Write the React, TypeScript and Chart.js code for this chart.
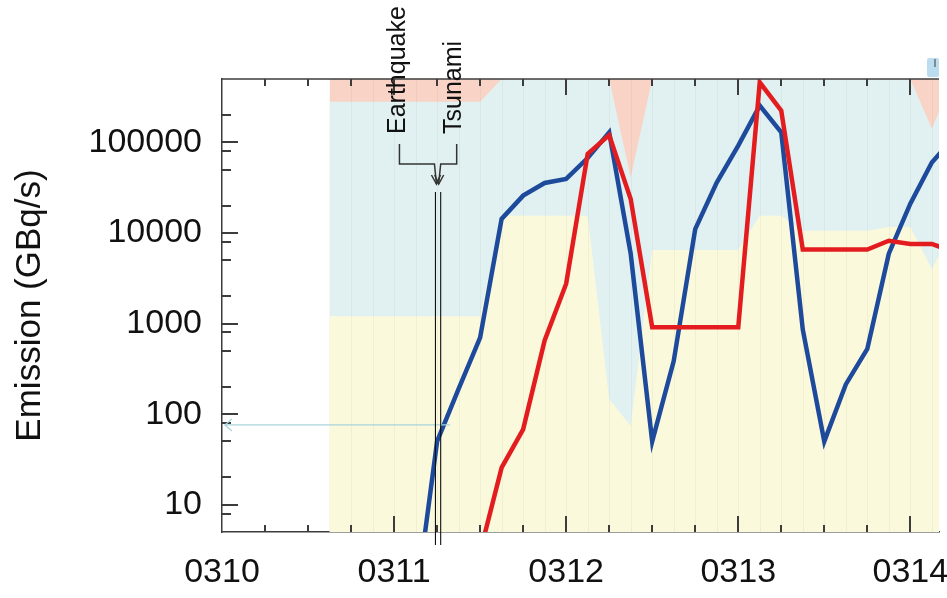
import React, { useEffect, useRef } from 'react';
import { Chart, registerables } from 'chart.js';

Chart.register(...registerables);

// ---------- data ----------
// x values are hours after 2011-03-10 00:00 UTC
const xTickHours = [0, 24, 48, 72, 96];
const xTickLabels = ['0310', '0311', '0312', '0313', '0314'];
const xMinorTickHours = [6, 12, 18, 24, 30, 36, 42, 48, 54, 60, 66, 72, 78, 84, 90, 96];
const yTickValues = [10, 100, 1000, 10000, 100000];
const yMinorTickValues = [8, 20, 50, 80, 200, 500, 800, 2000, 5000, 8000, 20000, 50000, 80000, 200000];

const fillHours = [15, 18, 21, 24, 27, 30, 33, 36, 39, 42, 45, 48, 51, 54, 57, 60, 63, 66, 69, 72, 75, 78, 81, 84, 87, 90, 93, 96, 99, 102];
const pinkTop = [500000, 500000, 500000, 500000, 500000, 500000, 500000, 500000, 500000, 500000, 500000, 500000, 500000, 500000, 500000, 500000, 500000, 500000, 500000, 500000, 500000, 500000, 500000, 500000, 500000, 500000, 500000, 500000, 500000, 500000];
const blueTop = [280000, 280000, 280000, 280000, 280000, 280000, 280000, 280000, 500000, 500000, 500000, 500000, 500000, 500000, 41000, 500000, 500000, 500000, 500000, 500000, 500000, 500000, 500000, 500000, 500000, 500000, 500000, 500000, 142000, 500000];
const yellowTop = [1200, 1200, 1200, 1200, 1200, 1200, 1200, 1200, 15500, 15500, 15500, 15500, 15500, 146, 74, 6500, 6500, 6500, 6500, 6500, 15500, 15500, 10600, 10600, 10600, 10600, 11600, 11600, 4000, 11000];

const blueHours = [27, 30, 33, 36, 39, 42, 45, 48, 51, 54, 57, 60, 63, 66, 69, 72, 75, 78, 81, 84, 87, 90, 93, 96, 99, 102];
const blueValues = [0.8, 50, 190, 700, 14300, 25800, 35600, 39500, 67000, 129000, 5900, 50, 385, 11000, 36000, 92000, 254000, 129000, 860, 50, 213, 525, 5900, 21000, 60000, 110000];

const redHours = [36, 39, 42, 45, 48, 51, 54, 57, 60, 63, 66, 69, 72, 75, 78, 81, 84, 87, 90, 93, 96, 99, 102];
const redValues = [3, 25.7, 68, 650, 2750, 74500, 120000, 23700, 910, 910, 910, 910, 910, 460000, 224000, 6550, 6550, 6550, 6550, 8200, 7570, 7570, 6200];

const earthquakeHour = 29.77;
const tsunamiHour = 30.5;
const refLineValue = 76;
const refLineHours = [0.4, 31.8];

const FONT = '"Liberation Sans", Arial, Helvetica, sans-serif';
const AXIS_COLOR = '#3c3c3c';

const toPoints = (xs: number[], ys: number[]) => xs.map((x, i) => ({ x, y: ys[i] }));

function drawInnerTicks(chart: any) {
  const { ctx, chartArea } = chart;
  const xs = chart.scales.x;
  const ys = chart.scales.y;
  const { left, top, bottom } = chartArea;
  ctx.save();
  ctx.strokeStyle = AXIS_COLOR;
  ctx.lineWidth = 2;
  ctx.beginPath();
  xMinorTickHours.forEach((h) => {
    const px = Math.round(xs.getPixelForValue(h));
    const len = h % 24 === 0 ? 16 : 7;
    ctx.moveTo(px, bottom);
    ctx.lineTo(px, bottom - len);
    ctx.moveTo(px, top);
    ctx.lineTo(px, top + len);
  });
  yTickValues.forEach((v) => {
    const py = Math.round(ys.getPixelForValue(v));
    ctx.moveTo(left, py);
    ctx.lineTo(left + 16, py);
  });
  yMinorTickValues.forEach((v) => {
    const py = Math.round(ys.getPixelForValue(v));
    ctx.moveTo(left, py);
    ctx.lineTo(left + 9, py);
  });
  ctx.stroke();
  ctx.restore();
}

const decorPlugin = {
  id: 'decor',
  afterDatasetDraw(chart: any, args: any) {
    if (args.index !== 2) return;
    const { ctx, chartArea } = chart;
    const xs = chart.scales.x;
    ctx.save();
    ctx.strokeStyle = 'rgba(110,130,100,0.08)';
    ctx.lineWidth = 1;
    for (const h of fillHours.slice(1)) {
      const px = Math.round(xs.getPixelForValue(h)) + 0.5;
      if (px > chartArea.right) continue;
      ctx.beginPath();
      ctx.moveTo(px, chartArea.top);
      ctx.lineTo(px, chartArea.bottom);
      ctx.stroke();
    }
    ctx.restore();
  },
  afterDraw(chart: any) {
    const { ctx, chartArea } = chart;
    const xs = chart.scales.x;
    const ys = chart.scales.y;
    const { left, right, top, bottom } = chartArea;
    ctx.save();

    // top border
    ctx.strokeStyle = AXIS_COLOR;
    ctx.lineWidth = 1.5;
    ctx.beginPath();
    ctx.moveTo(left, top);
    ctx.lineTo(right, top);
    ctx.stroke();

    drawInnerTicks(chart);

    // reference horizontal line with arrow
    const ry = ys.getPixelForValue(refLineValue);
    const rx0 = xs.getPixelForValue(refLineHours[0]);
    const rx1 = xs.getPixelForValue(refLineHours[1]);
    ctx.strokeStyle = '#a9d5dc';
    ctx.lineWidth = 1.2;
    ctx.beginPath();
    ctx.moveTo(rx0, ry);
    ctx.lineTo(rx1, ry);
    ctx.moveTo(rx0 + 7, ry - 6);
    ctx.lineTo(rx0, ry);
    ctx.lineTo(rx0 + 7, ry + 6);
    ctx.stroke();

    // earthquake / tsunami vertical lines
    const eqX = xs.getPixelForValue(earthquakeHour);
    const tsX = xs.getPixelForValue(tsunamiHour);
    ctx.strokeStyle = '#111';
    ctx.lineWidth = 1.1;
    ctx.beginPath();
    ctx.moveTo(eqX, top + 113);
    ctx.lineTo(eqX, bottom + 13);
    ctx.moveTo(tsX, top + 113);
    ctx.lineTo(tsX, bottom + 13);
    ctx.stroke();

    // brackets with arrows
    const eqTextX = eqX - 37;
    const tsTextX = tsX + 16;
    const bTop = top + 65;
    const bMid = top + 85;
    const aTip = top + 105;
    ctx.strokeStyle = '#333';
    ctx.lineWidth = 1.5;
    ctx.beginPath();
    ctx.moveTo(eqTextX + 1, bTop);
    ctx.lineTo(eqTextX + 1, bMid);
    ctx.lineTo(eqX - 1, bMid);
    ctx.lineTo(eqX + 1, aTip);
    ctx.moveTo(tsTextX, bTop);
    ctx.lineTo(tsTextX, bMid);
    ctx.lineTo(tsX, bMid);
    ctx.lineTo(tsX - 2, aTip);
    ctx.stroke();
    ctx.beginPath();
    ctx.moveTo(eqX - 4, aTip - 9);
    ctx.lineTo(eqX + 1, aTip);
    ctx.lineTo(eqX + 5, aTip - 9);
    ctx.moveTo(tsX - 6, aTip - 9);
    ctx.lineTo(tsX - 2, aTip);
    ctx.lineTo(tsX + 3, aTip - 9);
    ctx.stroke();

    // rotated labels
    ctx.fillStyle = '#111';
    ctx.font = `25px ${FONT}`;
    ctx.textAlign = 'left';
    ctx.textBaseline = 'middle';
    const drawRot = (text: string, x: number, y: number) => {
      ctx.save();
      ctx.translate(x, y);
      ctx.rotate(-Math.PI / 2);
      ctx.fillText(text, 0, 0);
      ctx.restore();
    };
    drawRot('Earthquake', eqTextX, top + 55);
    drawRot('Tsunami', tsTextX - 3, top + 55);

    // partially visible legend swatch at the top right
    ctx.fillStyle = '#bcdcef';
    ctx.beginPath();
    ctx.roundRect(right - 12, top - 21, 12, 19, 2);
    ctx.fill();
    ctx.strokeStyle = '#555';
    ctx.lineWidth = 1.2;
    ctx.beginPath();
    ctx.moveTo(right - 4, top - 20);
    ctx.lineTo(right - 4, top - 12);
    ctx.stroke();

    ctx.restore();
  },
};

export default function App() {
  const canvasRef = useRef<HTMLCanvasElement | null>(null);

  useEffect(() => {
    document.body.style.margin = '0';
    const canvas = canvasRef.current;
    if (!canvas) return;
    const tickFont = { family: FONT, size: 34 };
    const chart = new Chart(canvas, {
      type: 'line',
      data: {
        datasets: [
          {
            label: 'Red',
            data: toPoints(redHours, redValues),
            borderColor: '#e31d1f',
            borderWidth: 4.5,
            pointRadius: 0,
            fill: false,
            order: 0,
            borderJoinStyle: 'miter',
          },
          {
            label: 'Blue',
            data: toPoints(blueHours, blueValues),
            borderColor: '#1e4a9c',
            borderWidth: 4.5,
            pointRadius: 0,
            fill: false,
            order: 1,
            borderJoinStyle: 'miter',
          },
          {
            label: 'yellow',
            data: toPoints(fillHours, yellowTop),
            borderWidth: 0,
            pointRadius: 0,
            backgroundColor: '#fbf9dc',
            fill: 'start',
            order: 2,
          },
          {
            label: 'lightblue',
            data: toPoints(fillHours, blueTop),
            borderWidth: 0,
            pointRadius: 0,
            backgroundColor: '#e1f1f1',
            fill: 'start',
            order: 3,
          },
          {
            label: 'pink',
            data: toPoints(fillHours, pinkTop),
            borderWidth: 0,
            pointRadius: 0,
            backgroundColor: '#f9d3c6',
            fill: 'start',
            order: 4,
          },
        ],
      },
      options: {
        responsive: false,
        animation: false,
        devicePixelRatio: 1,
        layout: { padding: { top: 79, right: 8, left: 0, bottom: 0 } },
        plugins: { legend: { display: false }, tooltip: { enabled: false } },
        elements: { line: { tension: 0 } },
        scales: {
          x: {
            type: 'linear',
            min: 0,
            max: 100,
            afterBuildTicks: (s: any) => {
              s.ticks = xTickHours.map((v) => ({ value: v }));
            },
            afterFit: (s: any) => {
              s.height = 66;
              s.paddingLeft = 0;
              s.paddingRight = 0;
            },
            ticks: {
              autoSkip: false,
              maxRotation: 0,
              minRotation: 0,
              padding: 20,
              color: '#111',
              font: tickFont,
              callback: (v: any) => {
                const i = xTickHours.indexOf(Number(v));
                return i >= 0 ? xTickLabels[i] : '';
              },
            },
            grid: { display: false, drawTicks: false },
            border: { display: true, color: AXIS_COLOR, width: 1.5 },
          },
          y: {
            type: 'logarithmic',
            min: 5,
            max: 500000,
            afterBuildTicks: (s: any) => {
              s.ticks = yTickValues.map((v) => ({ value: v }));
            },
            afterFit: (s: any) => {
              s.width = 222;
              s.paddingTop = 0;
              s.paddingBottom = 0;
            },
            ticks: {
              padding: 20,
              color: '#111',
              font: tickFont,
              callback: (v: any) => String(v),
            },
            title: {
              display: true,
              text: 'Emission (GBq/s)',
              color: '#111',
              font: { family: FONT, size: 35 },
              padding: { top: 9, bottom: 0 },
            },
            grid: { display: false, drawTicks: false },
            border: { display: true, color: AXIS_COLOR, width: 1.5 },
          },
        },
      },
      plugins: [decorPlugin],
    } as any);
    return () => chart.destroy();
  }, []);

  return (
    <div style={{ width: 947, height: 598, background: '#fff' }}>
      <canvas ref={canvasRef} width={947} height={598} style={{ display: 'block' }} />
    </div>
  );
}
